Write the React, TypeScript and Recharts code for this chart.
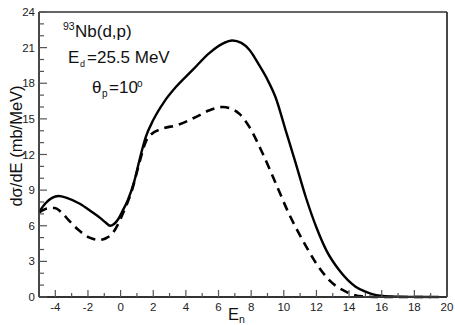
import React from "react"
import { LineChart, Line, XAxis, YAxis } from "recharts"

// solid curve: full calculation
const solidE = [-5.0, -4.6, -4.2, -3.8, -3.3, -2.5, -1.8, -1.2, -0.9, -0.65, -0.4, -0.15, 0.1, 0.44, 0.85, 1.15, 1.55, 2.0, 2.7, 3.4, 4.4, 5.4, 6.2, 6.85, 7.4, 7.9, 8.5, 9.0, 9.5, 10.1, 10.7, 11.35, 12.0, 12.6, 13.4, 14.4, 15.0, 15.6, 16.5, 17.5, 19.5]
const solidSigma = [7.15, 7.9, 8.35, 8.5, 8.35, 7.85, 7.2, 6.6, 6.25, 6.0, 6.15, 6.55, 7.2, 8.15, 9.8, 11.5, 13.5, 14.9, 16.5, 17.7, 19.1, 20.5, 21.3, 21.6, 21.4, 20.8, 19.5, 18.3, 16.8, 14.1, 11.4, 8.4, 5.85, 3.95, 2.25, 0.87, 0.45, 0.18, 0.05, 0.01, 0]

// dashed curve
const dashedE = [-5.0, -4.5, -4.05, -3.6, -3.2, -2.5, -1.9, -1.3, -0.9, -0.5, -0.17, 0.1, 0.35, 0.7, 1.15, 1.55, 1.8, 2.6, 3.4, 4.6, 5.4, 6.25, 6.7, 7.3, 7.9, 8.7, 9.5, 10.3, 11.15, 12.0, 12.8, 13.8, 14.8, 16.0, 19.0]
const dashedSigma = [7.1, 7.45, 7.5, 7.1, 6.5, 5.55, 5.0, 4.8, 4.95, 5.35, 6.1, 6.9, 7.7, 9.0, 11.3, 13.1, 13.6, 14.2, 14.45, 15.15, 15.7, 16.0, 15.9, 15.4, 14.3, 12.1, 9.6, 7.05, 4.8, 2.8, 1.4, 0.45, 0.05, 0, 0]

const xTicks = [-4, -3, -2, -1, 0, 1, 2, 3, 4, 5, 6, 7, 8, 9, 10, 11, 12, 13, 14, 15, 16, 17, 18, 19, 20]
const yTicks = [0, 1, 2, 3, 4, 5, 6, 7, 8, 9, 10, 11, 12, 13, 14, 15, 16, 17, 18, 19, 20, 21, 22, 23, 24]
const yTicksRight = [0, 1, 2, 3, 4, 5, 6, 7, 8, 9, 10, 11, 12, 13, 14, 15, 16, 17]

const solidData = solidE.map((e, i) => ({ e, v: solidSigma[i] }))
const dashedData = dashedE.map((e, i) => ({ e, v: dashedSigma[i] }))

const FONT = '"Liberation Sans", Arial, sans-serif'
const AXIS = "#333"
const TICK = "#555"

const XTick = ({ x, y, payload }: any) => {
  const major = payload.value % 2 === 0
  return (
    <g>
      <line x1={x} y1={y} x2={x} y2={y - (major ? 7 : 4)} stroke={TICK} strokeWidth={1.2} />
      {major && (
        <text x={x} y={y + 14} textAnchor="middle" fontSize={11.5} fill="#222" fontFamily={FONT}>
          {payload.value}
        </text>
      )}
    </g>
  )
}

const YTick = ({ x, y, payload }: any) => {
  const major = payload.value % 3 === 0
  return (
    <g>
      <line x1={x} y1={y} x2={x + (major ? 8 : 5)} y2={y} stroke={TICK} strokeWidth={1.2} />
      {major && (
        <text x={x - 4} y={y + 4} textAnchor="end" fontSize={11.5} fill="#222" fontFamily={FONT}>
          {payload.value}
        </text>
      )}
    </g>
  )
}

const RTick = ({ x, y, payload }: any) => {
  const major = payload.value % 3 === 0
  return <line x1={x} y1={y} x2={x - (major ? 8 : 5)} y2={y} stroke={TICK} strokeWidth={1.2} />
}

export default function App() {
  return (
    <div style={{ position: "absolute", left: 0, top: 0, width: 455, height: 325, background: "#fff" }}>
      <LineChart width={455} height={325} margin={{ top: 11, right: 7, bottom: 27, left: 0 }}>
        <XAxis
          dataKey="e"
          type="number"
          domain={[-5, 20]}
          ticks={xTicks}
          allowDataOverflow
          height={1}
          tickSize={0}
          tickMargin={0}
          tickLine={false}
          tick={<XTick />}
          axisLine={{ stroke: AXIS, strokeWidth: 1.8 }}
          interval={0}
        />
        <XAxis
          xAxisId="top"
          orientation="top"
          type="number"
          domain={[-5, 20]}
          height={1}
          tick={false}
          tickLine={false}
          axisLine={{ stroke: AXIS, strokeWidth: 1.5 }}
        />
        <YAxis
          type="number"
          domain={[0, 24]}
          ticks={yTicks}
          width={39}
          tickSize={0}
          tickMargin={0}
          tickLine={false}
          tick={<YTick />}
          axisLine={{ stroke: AXIS, strokeWidth: 1.8 }}
          interval={0}
        />
        <YAxis
          yAxisId="right"
          orientation="right"
          type="number"
          domain={[0, 24]}
          ticks={yTicksRight}
          width={1}
          tickSize={0}
          tickMargin={0}
          tickLine={false}
          tick={<RTick />}
          axisLine={{ stroke: AXIS, strokeWidth: 1.8 }}
          interval={0}
        />
        <Line
          data={dashedData}
          dataKey="v"
          type="monotone"
          stroke="#000"
          strokeWidth={2.6}
          strokeDasharray="9 6"
          dot={false}
          isAnimationActive={false}
        />
        <Line
          data={solidData}
          dataKey="v"
          type="monotone"
          stroke="#000"
          strokeWidth={2.4}
          dot={false}
          isAnimationActive={false}
        />
      </LineChart>
      <svg
        width={455}
        height={325}
        style={{ position: "absolute", left: 0, top: 0, pointerEvents: "none" }}
        fontFamily={FONT}
      >
        <text x={63} y={30} fontSize={10.5} fill="#111">93</text>
        <text x={75} y={37} fontSize={17} fill="#111">Nb(d,p)</text>
        <text x={68} y={63} fontSize={17} fill="#111">E</text>
        <text x={80} y={67} fontSize={9} fill="#111">d</text>
        <text x={87} y={63} fontSize={17} fill="#111">=25.5 MeV</text>
        <text x={92} y={93} fontSize={17} fill="#111">θ</text>
        <text x={102} y={97} fontSize={10} fill="#111">p</text>
        <text x={109} y={93} fontSize={17} fill="#111">=10</text>
        <text x={137} y={87} fontSize={10} fill="#111">o</text>
        <text x={22} y={146} fontSize={16.5} fill="#111" textAnchor="middle" transform="rotate(-90 22 146)">
          dσ/dE (mb/MeV)
        </text>
        <text x={228} y={320} fontSize={16.5} fill="#111">E</text>
        <text x={239} y={323} fontSize={10.5} fill="#111">n</text>
      </svg>
    </div>
  )
}
